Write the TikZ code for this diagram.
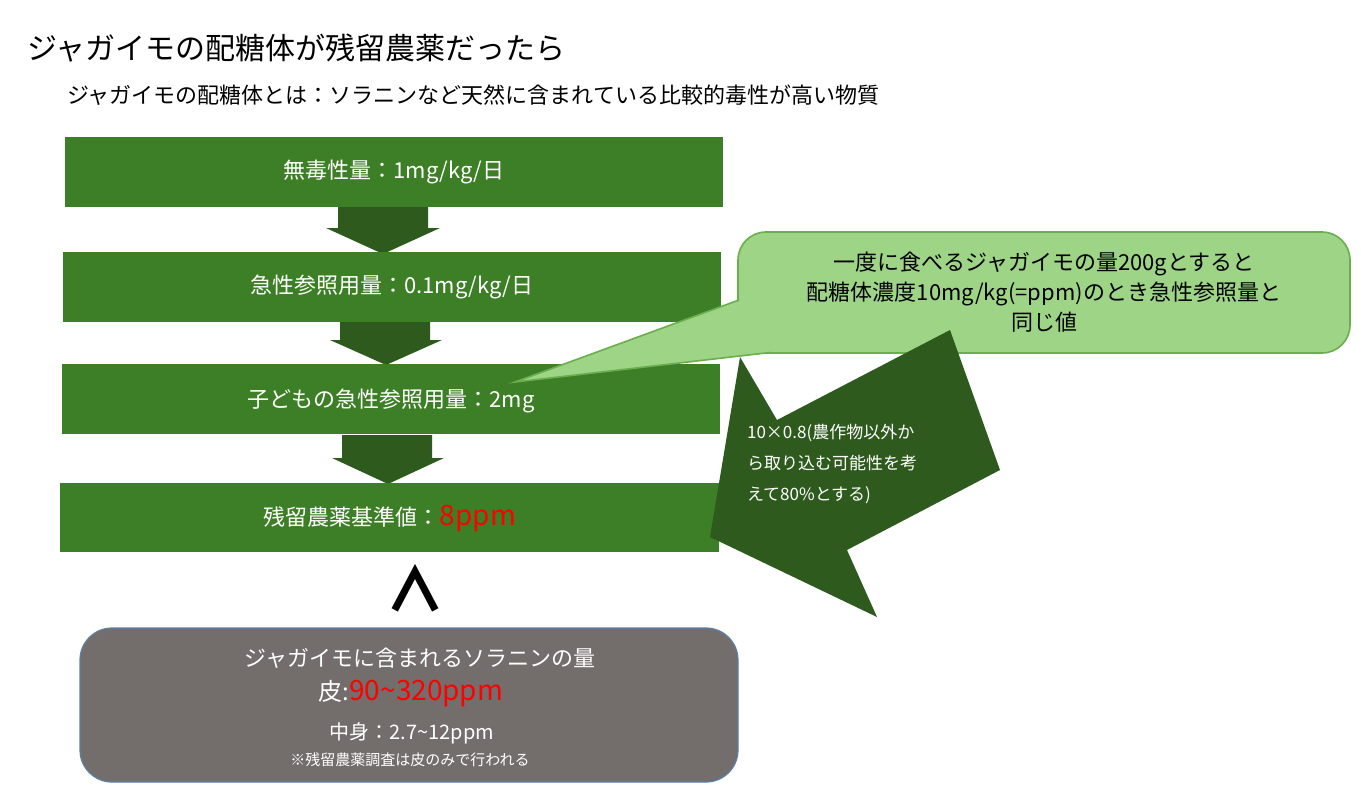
\documentclass[tikz,border=0pt]{standalone}
\usepackage{fontspec}
\setmainfont{Noto Sans CJK JP}
\definecolor{barg}{HTML}{3D7F26}
\definecolor{darkg}{HTML}{2E5A1E}
\definecolor{lightg}{HTML}{9DD486}
\definecolor{callb}{HTML}{6AAE4E}
\definecolor{greyb}{HTML}{736D6C}
\definecolor{greyborder}{HTML}{5B7FA8}
\begin{document}
\begin{tikzpicture}[x=0.5pt,y=-0.5pt,
  bar/.style={fill=barg,draw=none,text=white,font=\fontsize{11}{13}\selectfont},
  darr/.style={fill=darkg,draw=none}]
\useasboundingbox (0,0) rectangle (1364,793);
\node[anchor=west,font=\fontsize{15}{18}\selectfont] (title) at (20,48) {ジャガイモの配糖体が残留農薬だったら};
\node[anchor=west,font=\fontsize{11}{13}\selectfont] (sub) at (60,95) {ジャガイモの配糖体とは：ソラニンなど天然に含まれている比較的毒性が高い物質};
% arrows between bars
\fill[darr] (338,207) -- (428,207) -- (428,228) -- (440,228) -- (383,254) -- (326,228) -- (338,228) -- cycle;
\fill[darr] (340,322) -- (430,322) -- (430,340) -- (442,340) -- (386,365) -- (330,340) -- (340,340) -- cycle;
\fill[darr] (342,435) -- (432,435) -- (432,458) -- (444,458) -- (388,484) -- (332,458) -- (342,458) -- cycle;
\path[bar] (65,137) rectangle (723,207);
\node[text=white,font=\fontsize{11}{13}\selectfont] (b1) at (394,172) {無毒性量：1mg/kg/日};
\path[bar] (63,252) rectangle (721,322);
\node[text=white,font=\fontsize{11}{13}\selectfont] (b2) at (392,287) {急性参照用量：0.1mg/kg/日};
\path[bar] (62,364) rectangle (720,434);
\node[text=white,font=\fontsize{11}{13}\selectfont] (b3) at (391,401) {子どもの急性参照用量：2mg};
\path[bar] (60,483) rectangle (719,552);
\node[text=white,font=\fontsize{11}{13}\selectfont] (b4) at (390,519) {残留農薬基準値：\textcolor{red}{\fontsize{14}{16}\selectfont 8ppm}};
% callout
\coordinate (tail) at (515,382);
\filldraw[fill=lightg,draw=callb,line width=0.8pt,rounded corners=14pt] (738,232) rectangle (1350,353);
\filldraw[fill=lightg,draw=callb,line width=0.8pt] (739,300) -- (tail) -- (770,352.5);
\fill[lightg] (741,298) -- (741,351) -- (772,351) -- cycle;
\node[align=center,font=\fontsize{11}{15}\selectfont] (call) at (1044,292) {一度に食べるジャガイモの量200gとすると\\配糖体濃度10mg/kg(=ppm)のとき急性参照量と\\同じ値};
% big arrow
\fill[darkg] (740,357) -- (777,420) -- (950,330) -- (1000,470) -- (847,550) -- (877,617) -- (710,537) -- cycle;
\node[anchor=north west,align=left,text=white,font=\fontsize{8.5}{15.5}\selectfont] (arrtxt) at (740,417) {10×0.8(農作物以外か\\ら取り込む可能性を考\\えて80\%とする)};
% wedge
\node[font=\bfseries\fontsize{30}{30}\selectfont] (wedge) at (415,588) {∧};
% bottom box
\filldraw[fill=greyb,draw=greyborder,line width=0.6pt,rounded corners=16pt] (80,628) rectangle (738,782);
\node[text=white,font=\fontsize{11}{13}\selectfont] (g1) at (420,658) {ジャガイモに含まれるソラニンの量};
\node[text=white,font=\fontsize{12}{14}\selectfont] (g2) at (411,694) {皮:\textcolor{red}{\fontsize{14}{16}\selectfont 90\textasciitilde 320ppm}};
\node[text=white,font=\fontsize{10}{12}\selectfont] (g3) at (412,733) {中身：2.7\textasciitilde 12ppm};
\node[text=white,font=\fontsize{7.5}{9}\selectfont] (g4) at (410,760) {※残留農薬調査は皮のみで行われる};
\end{tikzpicture}
\end{document}
